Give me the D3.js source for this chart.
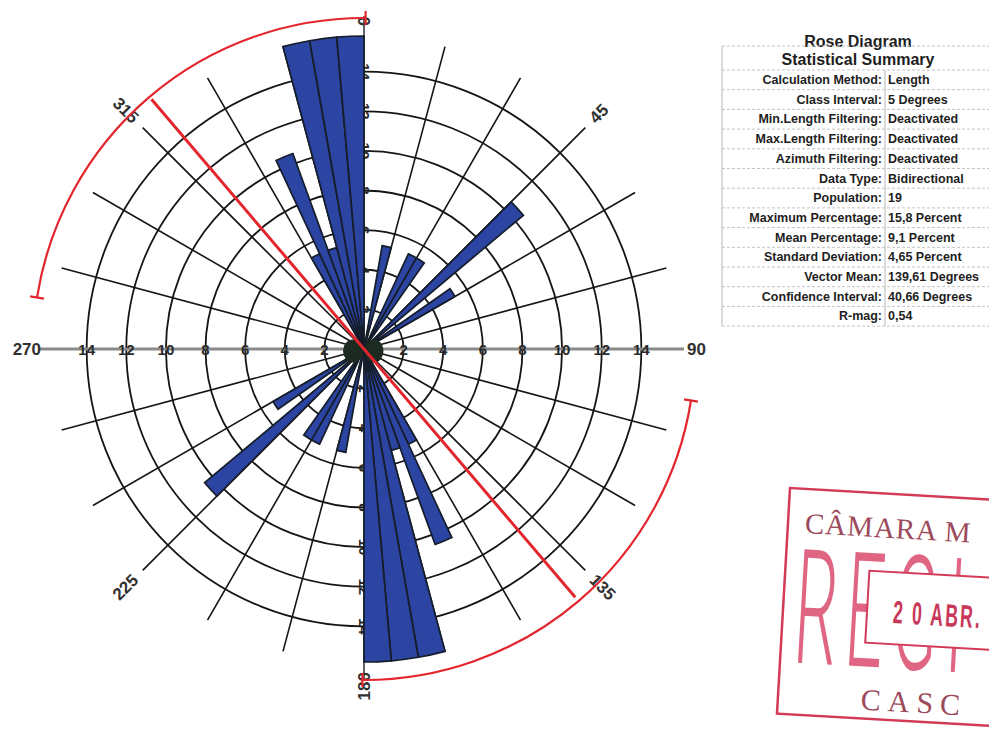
<!DOCTYPE html>
<html>
<head>
<meta charset="utf-8">
<script src="https://cdn.jsdelivr.net/npm/d3@7"></script>
<style>
  html, body { margin: 0; padding: 0; background: #fff; }
  svg { display: block; }
</style>
</head>
<body>
<svg id="chart" width="989" height="731"></svg>
<script>
// Rose diagram data: 5-degree classes (start azimuth) and percentage by length.
// Bidirectional data, so every class is also drawn at azimuth + 180.
const classStart = [10, 25, 30, 45, 55, 150, 155, 160, 165, 170, 175];
const classPercent = [5.3, 5.3, 5.3, 10.5, 5.3, 5.3, 10.5, 5.3, 15.8, 15.8, 15.8];
const classWidth = 5;

const ringTicks = [2, 4, 6, 8, 10, 12, 14];
const azimuthLabels = [0, 45, 90, 135, 180, 225, 270, 315];
const spokeStep = 15;

const vectorMean = 139.61;
const confidenceInterval = 40.66;
const maxPercent = 15.8;

const statLabels = [
  "Calculation Method:", "Class Interval:", "Min.Length Filtering:",
  "Max.Length Filtering:", "Azimuth Filtering:", "Data Type:", "Population:",
  "Maximum Percentage:", "Mean Percentage:", "Standard Deviation:",
  "Vector Mean:", "Confidence Interval:", "R-mag:"
];
const statValues = [
  "Length", "5 Degrees", "Deactivated", "Deactivated", "Deactivated",
  "Bidirectional", "19", "15,8 Percent", "9,1 Percent", "4,65 Percent",
  "139,61 Degrees", "40,66 Degrees", "0,54"
];

const svg = d3.select("#chart");
const cx = 364, cy = 349;
const r = d3.scaleLinear().domain([0, maxPercent]).range([0, 313]);
const rad = d => d * Math.PI / 180;
// compass bearing -> screen point
const pt = (bearing, radius) => [cx + radius * Math.sin(rad(bearing)), cy - radius * Math.cos(rad(bearing))];

const plot = svg.append("g");

// rings
plot.selectAll("circle.ring").data(ringTicks).join("circle")
  .attr("class", "ring")
  .attr("cx", cx).attr("cy", cy).attr("r", d => r(d))
  .attr("fill", "none").attr("stroke", "#151515").attr("stroke-width", 1.8);

// spokes every 15 degrees (the cardinal directions are the axes)
const spokes = d3.range(spokeStep, 360, spokeStep).filter(a => a % 90 !== 0);
plot.selectAll("line.spoke").data(spokes).join("line")
  .attr("class", "spoke")
  .attr("x1", cx).attr("y1", cy)
  .attr("x2", d => pt(d, r(maxPercent))[0])
  .attr("y2", d => pt(d, r(maxPercent))[1])
  .attr("stroke", "#151515").attr("stroke-width", 1.6);

// axes
plot.append("line")
  .attr("x1", cx).attr("y1", cy - 333).attr("x2", cx).attr("y2", cy + 331)
  .attr("stroke", "#222").attr("stroke-width", 1.4);
plot.append("line")
  .attr("x1", cx - 324).attr("y1", cy).attr("x2", cx + 320).attr("y2", cy)
  .attr("stroke", "#8a8a8a").attr("stroke-width", 3);

// ring labels along the axes
const ringLabelStyle = sel => sel
  .attr("font-family", "Liberation Sans, Arial, sans-serif")
  .attr("font-size", 15).attr("font-weight", "bold").attr("fill", "#2a2a2a")
  .attr("text-anchor", "middle").attr("dominant-baseline", "central");
[-1, 1].forEach(side => {
  plot.append("g").selectAll("text").data(ringTicks).join("text")
    .attr("x", d => cx + side * r(d)).attr("y", cy)
    .text(d => d).call(ringLabelStyle);
  plot.append("g").selectAll("text").data(ringTicks).join("text")
    .attr("transform", d => `translate(${cx},${cy + side * r(d)}) rotate(90)`)
    .text(d => d).call(ringLabelStyle);
});

// azimuth labels, reading along the radius
const labelR = 323;
plot.append("g").selectAll("text").data(azimuthLabels).join("text")
  .attr("transform", d => {
    const [x, y] = pt(d, labelR);
    const rot = d < 180 ? d - 90 : d - 270;
    return `translate(${x},${y}) rotate(${rot})`;
  })
  .attr("text-anchor", d => d < 180 ? "start" : "end")
  .attr("dominant-baseline", "central")
  .attr("font-family", "Liberation Sans, Arial, sans-serif")
  .attr("font-size", 17).attr("font-weight", "bold").attr("fill", "#303030")
  .text(d => d);

// petals
const arc = d3.arc().innerRadius(0);
const petals = [];
classStart.forEach((s, i) => {
  [0, 180].forEach(off => petals.push({ a0: s + off, a1: s + off + classWidth, v: classPercent[i] }));
});
plot.append("g").attr("transform", `translate(${cx},${cy})`)
  .selectAll("path").data(petals).join("path")
  .attr("d", d => arc({ startAngle: rad(d.a0), endAngle: rad(d.a1), outerRadius: r(d.v) }))
  .attr("fill", "#2c44a2").attr("stroke", "#151d2a").attr("stroke-width", 1.7)
  .attr("stroke-linejoin", "miter");

// hub where the petals converge
plot.append("ellipse").attr("cx", cx - 11).attr("cy", cy + 2).attr("rx", 10).attr("ry", 11.5).attr("fill", "#1d2a22");
plot.append("ellipse").attr("cx", cx + 10).attr("cy", cy + 2).attr("rx", 9.5).attr("ry", 11.5).attr("fill", "#1d2a22");

// confidence interval arcs and vector mean
const red = "#e3262e";
const arcR = 331;
[0, 180].forEach(off => {
  const a0 = vectorMean - confidenceInterval + off, a1 = vectorMean + confidenceInterval + off;
  const p = d3.path();
  p.arc(cx, cy, arcR, rad(a0 - 90), rad(a1 - 90));
  plot.append("path").attr("d", p.toString())
    .attr("fill", "none").attr("stroke", red).attr("stroke-width", 2.2);
  [a0, a1].forEach(a => {
    const [x1, y1] = pt(a, arcR - 7), [x2, y2] = pt(a, arcR + 7);
    plot.append("line").attr("x1", x1).attr("y1", y1).attr("x2", x2).attr("y2", y2)
      .attr("stroke", red).attr("stroke-width", 2.2);
  });
});
{
  const [x1, y1] = pt(vectorMean + 180, 328), [x2, y2] = pt(vectorMean, 326);
  plot.append("line").attr("x1", x1).attr("y1", y1).attr("x2", x2).attr("y2", y2)
    .attr("stroke", red).attr("stroke-width", 3);
}

// statistical summary table
const tbl = svg.append("g");
const rowY = i => 84 + i * 19.7;
const lineColor = "#c4c4c4";
tbl.append("text").attr("x", 858).attr("y", 47).attr("text-anchor", "middle")
  .attr("font-family", "Liberation Sans, Arial, sans-serif").attr("font-size", 16)
  .attr("font-weight", "bold").attr("fill", "#1e1e1e").text("Rose Diagram");
tbl.append("text").attr("x", 858).attr("y", 65).attr("text-anchor", "middle")
  .attr("font-family", "Liberation Sans, Arial, sans-serif").attr("font-size", 16)
  .attr("font-weight", "bold").attr("fill", "#1e1e1e").text("Statistical Summary");
const hLines = d3.range(statLabels.length + 1).map(i => rowY(i) - 14);
tbl.selectAll("line.h").data([46, ...hLines]).join("line")
  .attr("x1", 722).attr("x2", 989).attr("y1", d => d).attr("y2", d => d)
  .attr("stroke", lineColor).attr("stroke-width", 1).attr("stroke-dasharray", "3,2");
tbl.append("line").attr("x1", 722).attr("x2", 722).attr("y1", 46).attr("y2", hLines[hLines.length - 1])
  .attr("stroke", lineColor).attr("stroke-width", 1.2);
tbl.append("line").attr("x1", 885).attr("x2", 885).attr("y1", hLines[0]).attr("y2", hLines[hLines.length - 1])
  .attr("stroke", lineColor).attr("stroke-width", 1.2);
tbl.selectAll("text.lab").data(statLabels).join("text")
  .attr("x", 882).attr("y", (d, i) => rowY(i)).attr("text-anchor", "end")
  .attr("font-family", "Liberation Sans, Arial, sans-serif").attr("font-size", 12.5)
  .attr("font-weight", "bold").attr("fill", "#1e1e1e").text(d => d);
tbl.selectAll("text.val").data(statValues).join("text")
  .attr("x", 888).attr("y", (d, i) => rowY(i))
  .attr("font-family", "Liberation Sans, Arial, sans-serif").attr("font-size", 12.5)
  .attr("font-weight", "bold").attr("fill", "#1e1e1e").text(d => d);

// received stamp
const stamp = svg.append("g").attr("transform", "translate(790,488) rotate(3.3)");
const stampRed = "#d23a58", stampGrey = "#9c4a5c";
stamp.append("rect").attr("x", 0).attr("y", 0).attr("width", 260).attr("height", 226)
  .attr("fill", "none").attr("stroke", stampRed).attr("stroke-width", 2.5);
stamp.append("text").attr("x", 17).attr("y", 44)
  .attr("font-family", "Liberation Serif, serif").attr("font-size", 29)
  .attr("letter-spacing", 1).attr("fill", stampGrey).text("CÂMARA M");
stamp.append("text").attr("transform", "translate(12,174) scale(0.42,1)")
  .attr("font-family", "Roboto, Liberation Sans, sans-serif").attr("font-weight", 300)
  .attr("font-size", 160).attr("fill", "#dc5474").attr("fill-opacity", 0.9)
  .attr("letter-spacing", 20).text("REGI");
stamp.append("rect").attr("x", 84).attr("y", 78).attr("width", 200).attr("height", 72)
  .attr("fill", "#fff").attr("stroke", stampRed).attr("stroke-width", 2);
stamp.append("text").attr("transform", "translate(110,129) scale(0.55,1)")
  .attr("font-family", "Liberation Sans, sans-serif").attr("font-weight", "bold")
  .attr("font-size", 32).attr("letter-spacing", 4).attr("fill", "#c8385a").text("2 0 ABR.");
stamp.append("text").attr("x", 83).attr("y", 217)
  .attr("font-family", "Liberation Serif, serif").attr("font-size", 30)
  .attr("letter-spacing", 7).attr("fill", stampGrey).text("CASC");
</script>
</body>
</html>
